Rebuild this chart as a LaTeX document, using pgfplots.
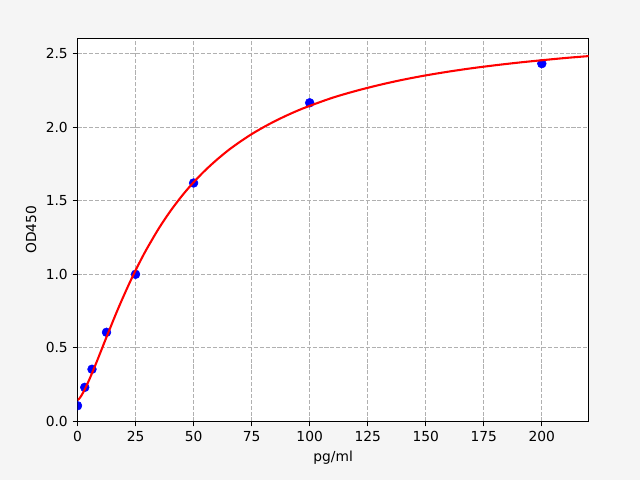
\documentclass[border=0pt]{standalone}
\usepackage{fontspec}
\setmainfont{DejaVu Sans}
\usepackage{pgfplots}
\pgfplotsset{compat=1.18}
\definecolor{figbg}{RGB}{245,245,245}
\definecolor{gridc}{RGB}{176,176,176}
\begin{document}
\fontsize{10.4}{12.5}\selectfont
\begin{tikzpicture}[x=1bp,y=1bp]
\fill[figbg] (0,0) rectangle (480,360);
\useasboundingbox (0,0) rectangle (480,360);
\begin{axis}[
  at={(58.125bp,43.875bp)}, anchor=south west,
  scale only axis, width=383.4bp, height=287.4bp,
  xmin=0, xmax=220.2, ymin=0, ymax=2.603,
  axis background/.style={fill=white},
  axis line style={line width=0.83bp, black},
  every tick/.style={line width=0.83bp, black},
  major tick length=3.65bp,
  tick align=outside, tick pos=left,
  xtick={0,25,50,75,100,125,150,175,200},
  ytick={0,0.5,1,1.5,2,2.5},
  yticklabel style={/pgf/number format/.cd, fixed, fixed zerofill, precision=1},
  /pgf/number format/assume math mode=true,
  ticklabel style={font=\fontsize{10.4}{12.5}\selectfont},
  label style={font=\fontsize{10.4}{12.5}\selectfont},
  grid=major,
  major grid style={gridc, line width=0.83bp, dash pattern=on 3.08bp off 1.33bp},
  xlabel={pg/ml}, ylabel={OD450},
  clip marker paths=true,
]
\addplot[only marks, mark=*, mark size=3.3bp, color=blue, mark options={solid, fill=blue, draw=blue}] coordinates {
(0,0.107) (3.125,0.232) (6.25,0.355) (12.5,0.606) (25,1.0) (50,1.62) (100,2.165) (200,2.431)
};
\addplot[red, line width=1.56bp, no marks, smooth, tension=0.5] coordinates {
(0,0.145) (1,0.160) (2,0.185) (3,0.214) (4,0.247) (5,0.282) (6,0.319) (8,0.395)
(10,0.474) (12,0.554) (14,0.632) (16,0.710) (18,0.785) (20,0.857) (22.5,0.944)
(25,1.026) (27.5,1.104) (30,1.177) (35,1.311) (40,1.429) (45,1.533) (50,1.625)
(55,1.706) (60,1.778) (65,1.843) (70,1.900) (75,1.952) (80,1.998) (85,2.040) (90,2.078)
(95,2.113) (100,2.144) (110,2.200)
(120,2.246) (130,2.286) (140,2.321) (150,2.351) (160,2.377) (170,2.400) (180,2.420)
(190,2.438) (200,2.454) (210,2.469) (220,2.482) (222,2.485)
};
\end{axis}
\end{tikzpicture}
\end{document}
